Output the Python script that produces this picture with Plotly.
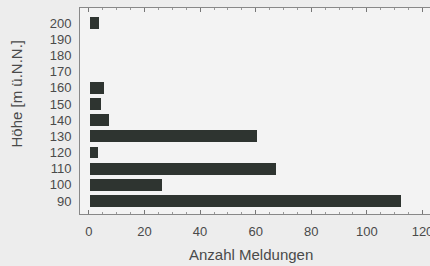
import plotly.graph_objects as go

heights = [90, 100, 110, 120, 130, 140, 150, 160, 170, 180, 190, 200]
counts = [112, 26, 67, 3, 60, 7, 4, 5, 0, 0, 0, 3.5]
x_ticks = [0, 20, 40, 60, 80, 100, 120]

fig = go.Figure(go.Bar(
    x=counts, y=heights, orientation="h", width=7.4,
    base=0.3,
    marker=dict(color="#2e3430", line=dict(width=0)),
))

tick_font = dict(family="Liberation Sans, Arial, sans-serif", size=13, color="#4a4a4a")
title_font = dict(family="Liberation Sans, Arial, sans-serif", size=15, color="#4a4a4a")

fig.update_layout(
    width=430, height=266,
    margin=dict(l=80, r=0, t=8, b=52),
    paper_bgcolor="#ededed", plot_bgcolor="#f3f3f3",
    font=tick_font, showlegend=False, bargap=0,
    annotations=[
        dict(text="Anzahl Meldungen", xref="paper", yref="paper",
             x=(251 - 80) / 350, y=-41 / 206, xanchor="center", yanchor="middle",
             showarrow=False, font=title_font),
        dict(text="Höhe [m ü.N.N.]", xref="paper", yref="paper",
             x=(15.5 - 80) / 350, y=(214 - 94) / 206, xanchor="center", yanchor="middle",
             textangle=-90, showarrow=False, font=title_font),
    ],
)
fig.update_xaxes(
    range=[-3.2, 122.7], tickvals=x_ticks, ticks="inside", ticklen=4,
    tickcolor="#777", showline=True, linecolor="#888", linewidth=1,
    mirror="ticks", showgrid=False, zeroline=False, ticklabelstandoff=5,
    automargin=False, ticklabeloverflow="allow",
    minor=dict(dtick=5, ticks="inside", ticklen=2, tickcolor="#999"),
)
fig.update_yaxes(
    range=[82.0, 209.3], tickvals=heights, ticks="", showline=True,
    linecolor="#888", linewidth=1, mirror=False, showgrid=False,
    zeroline=False, ticklabelstandoff=5, automargin=False,
)
fig.write_html(
    "out.html",
    config={"displayModeBar": False},
    post_script="document.body.style.margin='0';document.body.style.overflow='hidden';",
)
